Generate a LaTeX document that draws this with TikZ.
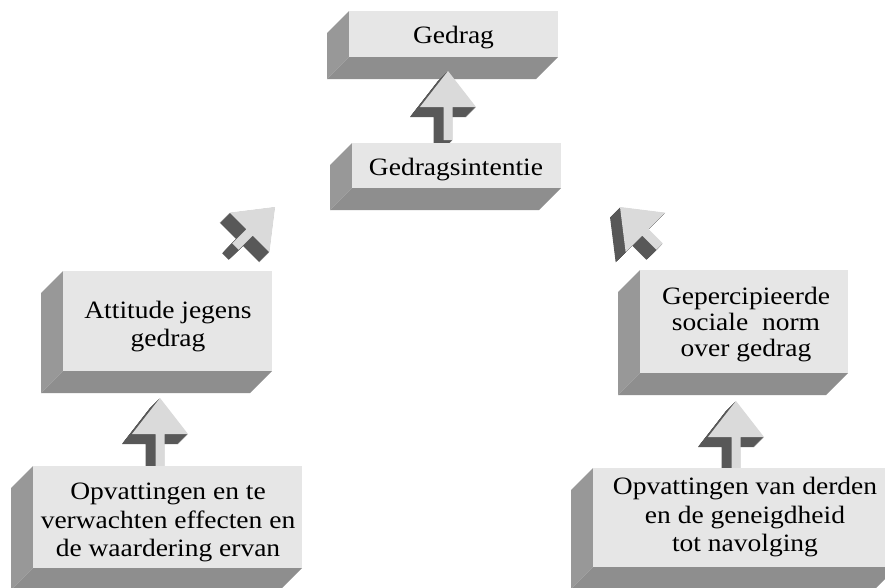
\documentclass[tikz,border=0pt]{standalone}
\usepackage{fontspec}
\setmainfont[FakeStretch=1.1]{Liberation Serif}
\definecolor{frontgray}{RGB}{230,230,230}
\definecolor{sidegray}{RGB}{152,152,152}
\definecolor{bottomgray}{RGB}{142,142,142}
\definecolor{arrowlight}{RGB}{218,218,218}
\definecolor{arrowdark}{RGB}{88,88,88}
\newcommand\dd{22}
% 3D box: name, left, top, right, bottom (pixel coordinates of the front face)
\newcommand\boxthree[5]{%
  \fill[sidegray] (#2,#3) -- (#2-\dd,#3+\dd) -- (#2-\dd,#5+\dd) -- (#2,#5) -- cycle;
  \fill[bottomgray] (#2,#5) -- (#4,#5) -- (#4-\dd,#5+\dd) -- (#2-\dd,#5+\dd) -- cycle;
  \node[frontface, minimum width={#4-#2}, minimum height={#5-#3}, anchor=north west] (#1) at (#2,#3) {};
}
% block arrow: name, tip x, tip y, rotation, stem length
\newcommand\arrowshape[1]{(0,0) -- (28,36) -- (4.5,36) -- (4.5,36+#1) -- (-4.5,36+#1) -- (-4.5,36) -- (-28,36) -- cycle}
\newcommand\blockarrow[5]{%
  \foreach \t in {1,0.95,...,0.04}{%
    \begin{scope}[shift={(-10*\t,10*\t)}]
      \begin{scope}[shift={(#2,#3)}, rotate=#4]
        \fill[arrowdark] \arrowshape{#5};
      \end{scope}
    \end{scope}
  }%
  \begin{scope}[shift={(#2,#3)}, rotate=#4]
    \fill[arrowlight] \arrowshape{#5};
    \coordinate (#1) at (0,0);
  \end{scope}
}
\begin{document}
\begin{tikzpicture}[x=1pt,y=-1pt,
  frontface/.style={fill=frontgray, draw=none, inner sep=0pt, outer sep=0pt},
  boxtext/.style={align=center, inner sep=0pt, font=\fontsize{25}{28.5}\selectfont},
  ]
\useasboundingbox (0,0) rectangle (885,587);
\clip (0,0) rectangle (885,587);
\fill[white] (0,0) rectangle (885,587);

\boxthree{gedrag}{349}{11}{558}{57}
\node[boxtext, anchor=base] (tgedrag) at (453.5,43) {Gedrag};

\blockarrow{a1}{448}{71}{0}{33}

\boxthree{intentie}{352}{143}{561}{188}
\node[boxtext, anchor=base] (tintentie) at (456,175) {Gedragsintentie};

\blockarrow{a2}{275}{207}{-45}{20}
\blockarrow{a3}{620}{207}{45}{20}

\boxthree{attitude}{63}{271}{272}{371}
\node[boxtext] (tattitude) at (168,326.5) {Attitude jegens\\gedrag};

\boxthree{norm}{640}{270}{848}{373}
\node[boxtext, font=\fontsize{25}{26}\selectfont] (tnorm) at (746,325) {Gepercipieerde\\sociale\ \ norm\\over gedrag};

\blockarrow{a4}{160}{398}{0}{32}
\blockarrow{a5}{736}{401}{0}{32}

\boxthree{opvl}{33}{466}{302}{568}
\node[boxtext] (topvl) at (168,522.5) {Opvattingen en te\\verwachten effecten en\\de waardering ervan};

\boxthree{opvr}{593}{468}{897}{567}
\node[boxtext] (topvr) at (745,517.5) {Opvattingen van derden\\en de geneigdheid\\tot navolging};
\end{tikzpicture}
\end{document}
